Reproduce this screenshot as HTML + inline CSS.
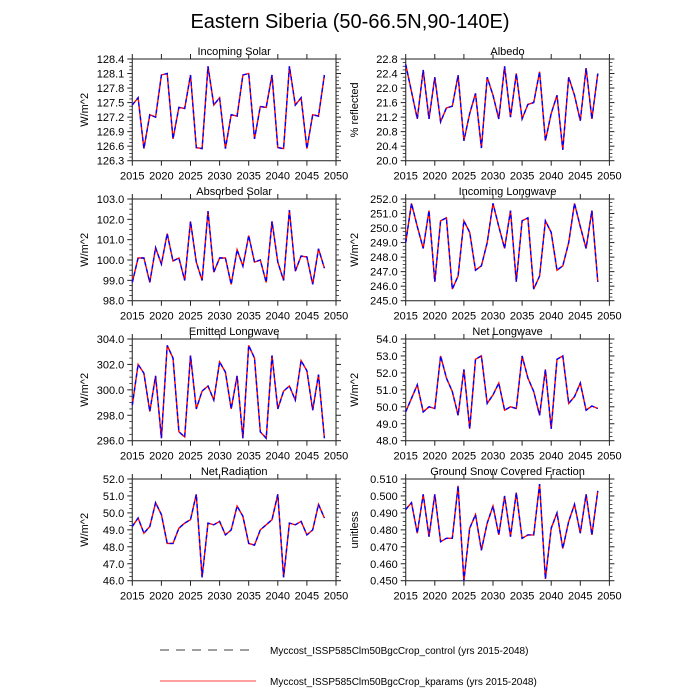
<!DOCTYPE html>
<html><head><meta charset="utf-8"><style>
body{margin:0;background:#fff;}
svg{display:block;font-family:"Liberation Sans",sans-serif;}
</style></head><body>
<svg id="s" width="700" height="700" xmlns="http://www.w3.org/2000/svg">
<text x="350" y="28" font-size="20" text-anchor="middle" fill="#000">Eastern Siberia (50-66.5N,90-140E)</text>
<line x1="160" y1="650" x2="256" y2="650" stroke="#000" stroke-width="0.8" stroke-dasharray="9,7"/>
<text x="270" y="654" font-size="10">Myccost_ISSP585Clm50BgcCrop_control (yrs 2015-2048)</text>
<line x1="160" y1="681" x2="256" y2="681" stroke="#f00" stroke-width="0.8"/>
<text x="270" y="685" font-size="10">Myccost_ISSP585Clm50BgcCrop_kparams (yrs 2015-2048)</text>
</svg>
<script>
var P=[
{t:"Incoming Solar",yl:"W/m^2",c:0,r:0,min:126.3,max:128.4,st:0.3,d:1,v:[127.45,127.6,126.55,127.25,127.2,128.07,128.1,126.75,127.4,127.38,128.07,126.57,126.55,128.25,127.45,127.6,126.55,127.25,127.22,128.07,128.1,126.75,127.42,127.4,128.07,126.57,126.55,128.25,127.45,127.6,126.55,127.25,127.22,128.07]},
{t:"Albedo",yl:"% reflected",c:1,r:0,min:20,max:22.8,st:0.4,d:1,v:[22.65,21.9,21.15,22.5,21.15,22.3,21.07,21.45,21.5,22.35,20.55,21.3,21.85,20.35,22.3,21.8,21.15,22.6,21.2,22.4,21.15,21.55,21.6,22.45,20.55,21.3,21.8,20.3,22.3,21.8,21.1,22.55,21.15,22.4]},
{t:"Absorbed Solar",yl:"W/m^2",c:0,r:1,min:98,max:103,st:1,d:1,v:[98.9,100.1,100.1,98.9,100.6,99.8,101.3,99.95,100.1,99.0,101.9,99.9,99.0,102.4,99.4,100.1,100.1,98.8,100.5,99.7,101.2,99.9,100.0,98.9,101.9,99.9,99.0,102.45,99.45,100.2,100.15,98.8,100.55,99.6]},
{t:"Incoming Longwave",yl:"W/m^2",c:1,r:1,min:245,max:252,st:1,d:1,v:[249.0,251.7,250.1,248.6,251.2,246.3,250.5,250.7,245.8,246.7,250.5,249.7,247.1,247.4,249.0,251.7,250.1,248.6,251.2,246.3,250.5,250.7,245.8,246.7,250.5,249.7,247.1,247.4,249.0,251.7,250.1,248.6,251.2,246.3]},
{t:"Emitted Longwave",yl:"W/m^2",c:0,r:2,min:296,max:304,st:2,d:1,v:[298.8,302.0,301.3,298.3,301.1,296.2,303.5,302.5,296.7,296.3,302.7,298.5,299.9,300.3,299.2,302.2,301.4,298.5,301.1,296.2,303.5,302.5,296.7,296.2,302.7,298.5,299.9,300.3,299.2,302.3,301.5,298.4,301.2,296.2]},
{t:"Net Longwave",yl:"W/m^2",c:1,r:2,min:48,max:54,st:1,d:1,v:[49.7,50.5,51.3,49.7,50.0,49.9,53.0,51.7,50.9,49.5,52.2,48.7,52.8,53.0,50.2,50.7,51.4,49.8,50.0,49.9,53.0,51.7,50.9,49.5,52.2,48.7,52.8,53.0,50.2,50.6,51.4,49.8,50.05,49.9]},
{t:"Net Radiation",yl:"W/m^2",c:0,r:3,min:46,max:52,st:1,d:1,v:[49.2,49.7,48.8,49.2,50.6,49.9,48.2,48.2,49.1,49.4,49.6,51.1,46.2,49.4,49.3,49.5,48.7,49.0,50.4,49.8,48.2,48.1,49.0,49.3,49.6,51.1,46.2,49.4,49.3,49.5,48.7,49.0,50.5,49.7]},
{t:"Ground Snow Covered Fraction",yl:"unitless",c:1,r:3,min:0.45,max:0.51,st:0.01,d:3,v:[0.492,0.496,0.478,0.501,0.476,0.501,0.473,0.475,0.475,0.506,0.450,0.481,0.489,0.468,0.484,0.494,0.477,0.500,0.476,0.502,0.475,0.477,0.477,0.507,0.451,0.481,0.490,0.469,0.485,0.495,0.478,0.501,0.477,0.503]}
];
var h="";
P.forEach(function(p){
 var x0=p.c?405.7:132.3,x1=x0+203.7,y0=59+p.r*140,y1=y0+101.7;
 var X=function(yr){return x0+(yr-2015)/35*(x1-x0)};
 var Y=function(v){return y1-(v-p.min)/(p.max-p.min)*(y1-y0)};
 var cx=(x0+x1)/2;
 h+='<text x="'+cx+'" y="'+(y0-4)+'" font-size="11" text-anchor="middle">'+p.t+'</text>';
 h+='<rect x="'+x0+'" y="'+y0+'" width="'+(x1-x0)+'" height="'+(y1-y0)+'" fill="none" stroke="#444" stroke-width="1.2"/>';
 for(var yr=2015;yr<=2050;yr+=5){var x=X(yr);
  h+='<line x1="'+x+'" y1="'+y0+'" x2="'+x+'" y2="'+(y0-5)+'" stroke="#222"/>';
  h+='<line x1="'+x+'" y1="'+y1+'" x2="'+x+'" y2="'+(y1+5)+'" stroke="#222"/>';
  h+='<text x="'+x+'" y="'+(y1+19)+'" font-size="11" text-anchor="middle">'+yr+'</text>';}
 var n=Math.round((p.max-p.min)/p.st);
 for(var i=0;i<=n;i++){var v=p.min+i*p.st,y=Y(v);
  h+='<line x1="'+x0+'" y1="'+y+'" x2="'+(x0-5)+'" y2="'+y+'" stroke="#222"/>';
  h+='<line x1="'+x1+'" y1="'+y+'" x2="'+(x1+5)+'" y2="'+y+'" stroke="#222"/>';
  h+='<text x="'+(x0-8)+'" y="'+(y+4)+'" font-size="11" text-anchor="end">'+v.toFixed(p.d)+'</text>';
  if(i<n)for(var k=1;k<4;k++){var ym=Y(v+k*p.st/4);
   h+='<line x1="'+x0+'" y1="'+ym+'" x2="'+(x0-3)+'" y2="'+ym+'" stroke="#222" stroke-width="0.8"/>';
   h+='<line x1="'+x1+'" y1="'+ym+'" x2="'+(x1+3)+'" y2="'+ym+'" stroke="#222" stroke-width="0.8"/>';}
 }
 var lx=p.c?358:88,ly=(y0+y1)/2;
 h+='<text x="'+lx+'" y="'+ly+'" font-size="11" text-anchor="middle" transform="rotate(-90 '+lx+' '+ly+')">'+p.yl+'</text>';
 var pts=p.v.map(function(v,i){return X(2015+i).toFixed(1)+','+Y(v).toFixed(1)}).join(' ');
 h+='<polyline points="'+pts+'" fill="none" stroke="#f00" stroke-width="1.4"/>';
 h+='<polyline points="'+pts+'" fill="none" stroke="#00f" stroke-width="1.4" stroke-dasharray="4,3"/>';
});
document.getElementById('s').insertAdjacentHTML('beforeend',h);
</script>
</body></html>
